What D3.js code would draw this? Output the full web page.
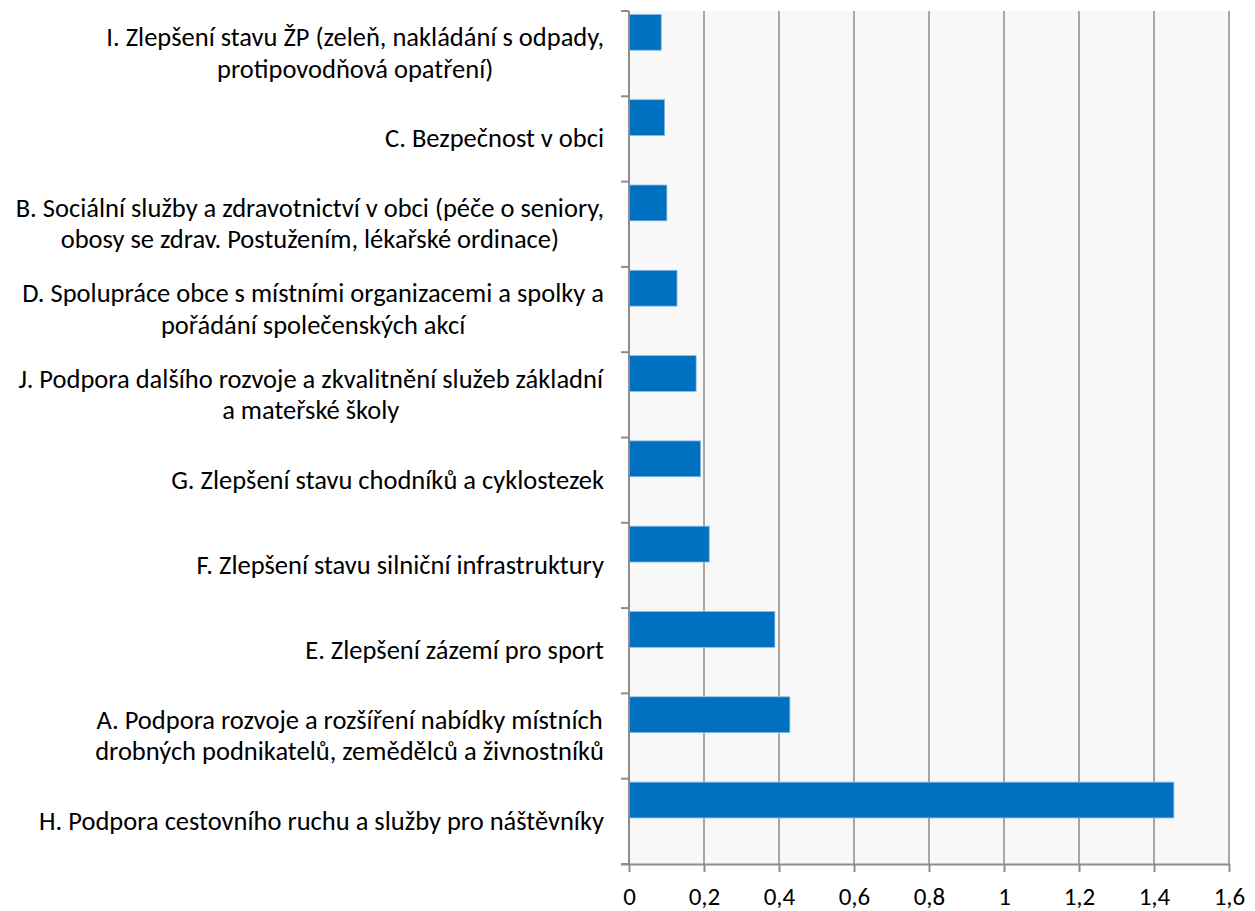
<!DOCTYPE html>
<html>
<head>
<meta charset="utf-8">
<script src="https://cdn.jsdelivr.net/npm/d3@7"></script>
<style>
  body { margin: 0; background: #fff; }
  svg text { font-family: Carlito, "Open Sans", sans-serif; fill: #000; }
  .xaxis text { font-size: 25px; }
</style>
</head>
<body>
<div id="chart"></div>
<script>
// categories, top to bottom (each label split into its lines)
const categories = [
    ["I. Zlepšení stavu ŽP (zeleň, nakládání s odpady,", "protipovodňová opatření)"],
    ["C. Bezpečnost v obci"],
    ["B. Sociální služby a zdravotnictví v obci (péče o seniory,", "obosy se zdrav. Postužením, lékařské ordinace)"],
    ["D. Spolupráce obce s místními organizacemi a spolky a", "pořádání společenských akcí"],
    ["J. Podpora dalšího rozvoje a zkvalitnění služeb základní", "a mateřské školy"],
    ["G. Zlepšení stavu chodníků a cyklostezek"],
    ["F. Zlepšení stavu silniční infrastruktury"],
    ["E. Zlepšení zázemí pro sport"],
    ["A. Podpora rozvoje a rozšíření nabídky místních", "drobných podnikatelů, zemědělců a živnostníků"],
    ["H. Podpora cestovního ruchu a služby pro náštěvníky"]
];
const values = [0.086, 0.095, 0.101, 0.128, 0.179, 0.191, 0.214, 0.389, 0.429, 1.453];
const xTicks = [0, 0.2, 0.4, 0.6, 0.8, 1, 1.2, 1.4, 1.6];

let width = 1255, height = 911;
let margin = {top: 11, right: 26, bottom: 47, left: 629};

let svg = d3.select("#chart").append("svg")
    .attr("width", width)
    .attr("height", height);

let x = d3.scaleLinear()
    .domain([0, 1.6])
    .range([margin.left, width - margin.right]);

let y = d3.scaleBand()
    .domain(d3.range(categories.length))
    .range([margin.top, height - margin.bottom]);

// plot background
svg.append("rect")
    .attr("x", x(0))
    .attr("y", margin.top)
    .attr("width", x(1.6) - x(0))
    .attr("height", height - margin.bottom - margin.top)
    .attr("fill", "#f8f8f8");

// vertical gridlines
svg.append("g")
    .selectAll("line")
    .data(xTicks.slice(1))
    .join("line")
    .attr("x1", d => x(d))
    .attr("x2", d => x(d))
    .attr("y1", margin.top)
    .attr("y2", height - margin.bottom)
    .attr("stroke", "#8c8c8c")
    .attr("stroke-width", 1.5);

// bars (sit in the upper part of each band)
let bw = y.bandwidth();
svg.append("g")
    .selectAll("rect")
    .data(values)
    .join("rect")
    .attr("x", x(0))
    .attr("y", (d, i) => y(i) + bw * 0.04)
    .attr("width", d => x(d) - x(0))
    .attr("height", bw * 0.42)
    .attr("fill", "#0070c0")
    .attr("stroke", "#8dbbe6")
    .attr("stroke-width", 0.8);

// x axis
let xAxis = svg.append("g")
    .attr("class", "xaxis")
    .attr("transform", `translate(0, ${height - margin.bottom})`)
    .call(d3.axisBottom(x)
        .tickValues(xTicks)
        .tickSize(8)
        .tickPadding(15)
        .tickFormat(d => String(d).replace(".", ",")));
xAxis.attr("font-size", 25);
xAxis.select(".domain")
    .attr("d", `M${x(0) - 8},0.5H${x(1.6)}`);

// y axis
let yTickPos = d3.range(categories.length + 1).map(i => margin.top + i * bw);
let yAxis = svg.append("g");
yAxis.append("line")
    .attr("x1", x(0)).attr("x2", x(0))
    .attr("y1", margin.top).attr("y2", height - margin.bottom);
yAxis.selectAll(".tk")
    .data(yTickPos)
    .join("line")
    .attr("class", "tk")
    .attr("x1", x(0) - 8).attr("x2", x(0))
    .attr("y1", d => d).attr("y2", d => d);
yAxis.selectAll("line").attr("stroke", "#8c8c8c").attr("stroke-width", 2);

xAxis.selectAll("line").attr("stroke", "#8c8c8c").attr("stroke-width", 2);
xAxis.select(".domain").attr("stroke", "#8c8c8c").attr("stroke-width", 2);
xAxis.selectAll("text").attr("fill", "#000");

// category labels
let lineH = 31.5;
svg.append("g")
    .selectAll("text")
    .data(categories)
    .join("text")
    .attr("text-anchor", "middle")
    .attr("font-size", 26.5)
    .each(function(lines, i) {
        let cy = y(i) + bw / 2;
        let t = d3.select(this);
        lines.forEach((ln, k) => {
            t.append("tspan")
                .attr("x", 0)
                .attr("y", cy + (k - (lines.length - 1) / 2) * lineH)
                .attr("dy", "0.32em")
                .text(ln);
        });
    })
    .each(function() {
        // center each label block, right edge near the axis
        let box = this.getBBox();
        let t = d3.select(this);
        let cx = 604 - box.width / 2;
        t.selectAll("tspan").attr("x", cx);
    });
</script>
</body>
</html>
